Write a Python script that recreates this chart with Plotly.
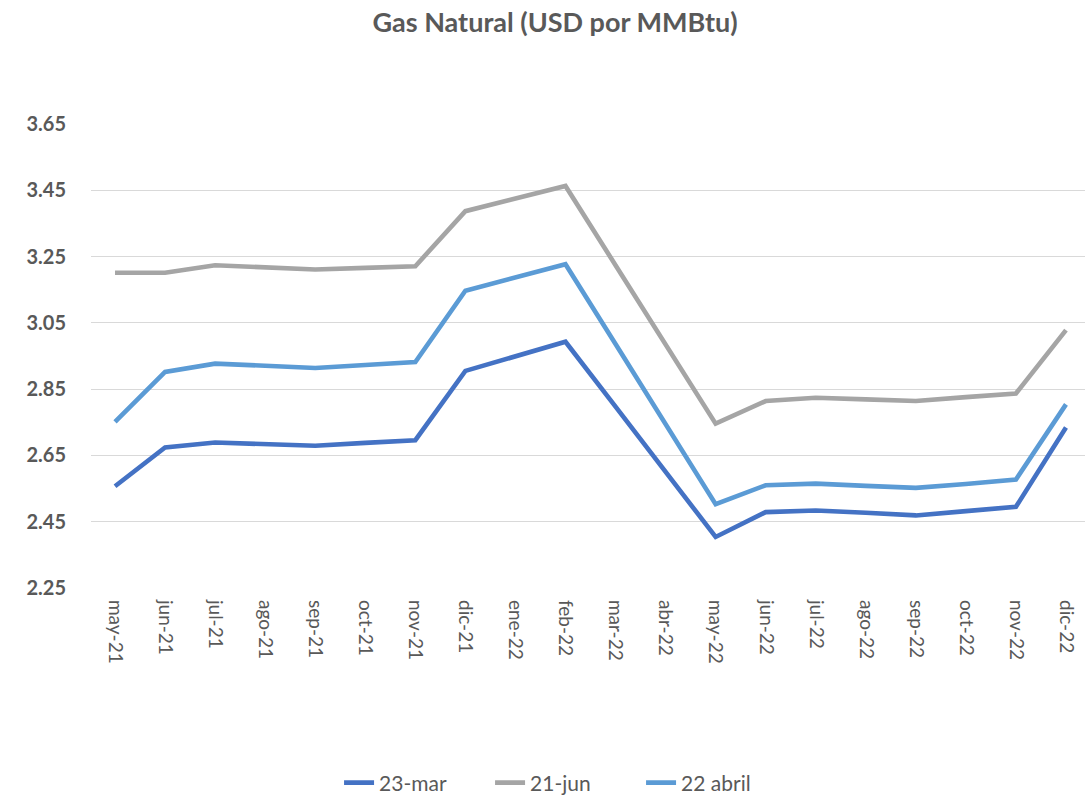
import plotly.graph_objects as go

months = ["may-21", "jun-21", "jul-21", "ago-21", "sep-21", "oct-21", "nov-21", "dic-21",
          "ene-22", "feb-22", "mar-22", "abr-22", "may-22", "jun-22", "jul-22", "ago-22",
          "sep-22", "oct-22", "nov-22", "dic-22"]

mar23 = [2.557, 2.674, 2.689, 2.684, 2.679, 2.688, 2.696, 2.905, 2.949, 2.993,
         2.797, 2.600, 2.404, 2.479, 2.484, 2.477, 2.469, 2.482, 2.495, 2.734]
jun21 = [3.201, 3.201, 3.224, 3.218, 3.211, 3.216, 3.221, 3.387, 3.425, 3.463,
         3.224, 2.985, 2.746, 2.814, 2.824, 2.819, 2.814, 2.826, 2.837, 3.028]
abr22 = [2.751, 2.902, 2.927, 2.920, 2.914, 2.923, 2.932, 3.147, 3.187, 3.227,
         2.986, 2.745, 2.503, 2.560, 2.565, 2.558, 2.552, 2.564, 2.577, 2.804]

series = [("23-mar", mar23, "#4472C4"), ("21-jun", jun21, "#A5A5A5"), ("22 abril", abr22, "#5B9BD5")]
yticks = [2.25, 2.45, 2.65, 2.85, 3.05, 3.25, 3.45, 3.65]

fig = go.Figure()
for name, vals, color in series:
    fig.add_trace(go.Scatter(x=months, y=vals, mode="lines", name=name,
                             line=dict(color=color, width=4.6, shape="linear")))

fig.update_layout(
    width=1085, height=797,
    paper_bgcolor="white", plot_bgcolor="white",
    margin=dict(l=91, r=0, t=124, b=209, autoexpand=False),
    title=dict(text="<b>Gas Natural (USD por MMBtu)</b>", x=555/1085, xanchor="center",
               y=1 - 23/797, yanchor="middle", yref="container",
               font=dict(family="Lato, Open Sans, sans-serif", size=27, color="#595959")),
    showlegend=True,
    legend=dict(orientation="h", x=518/1085, xanchor="center",
                y=(797 - 783) / 797, yanchor="middle", yref="container",
                font=dict(family="Lato, Open Sans, sans-serif", size=21, color="#595959"),
                tracegroupgap=0, itemwidth=30, entrywidth=106, entrywidthmode="pixels"),
    font=dict(family="Lato, sans-serif", color="#595959"),
)
fig.update_xaxes(type="category", range=[-0.48, 19.38], tickangle=90,
                 showgrid=False, showline=False, zeroline=False, ticks="",
                 ticklabelstandoff=11,
                 tickfont=dict(family="Lato, sans-serif", size=19, color="#595959"))
fig.update_yaxes(range=[2.25, 3.65], tickvals=yticks, ticktext=[f"<b>{v:.2f}</b>" for v in yticks],
                 showgrid=True, gridcolor="#D9D9D9", gridwidth=1.3, zeroline=False, showline=False,
                 ticks="", ticklabelstandoff=24,
                 tickfont=dict(family="Lato, Open Sans, sans-serif", size=20, color="#595959"))

fig.write_html("out.html", config={"displayModeBar": False},
               post_script="document.body.style.margin='0';document.body.style.overflow='hidden';")
